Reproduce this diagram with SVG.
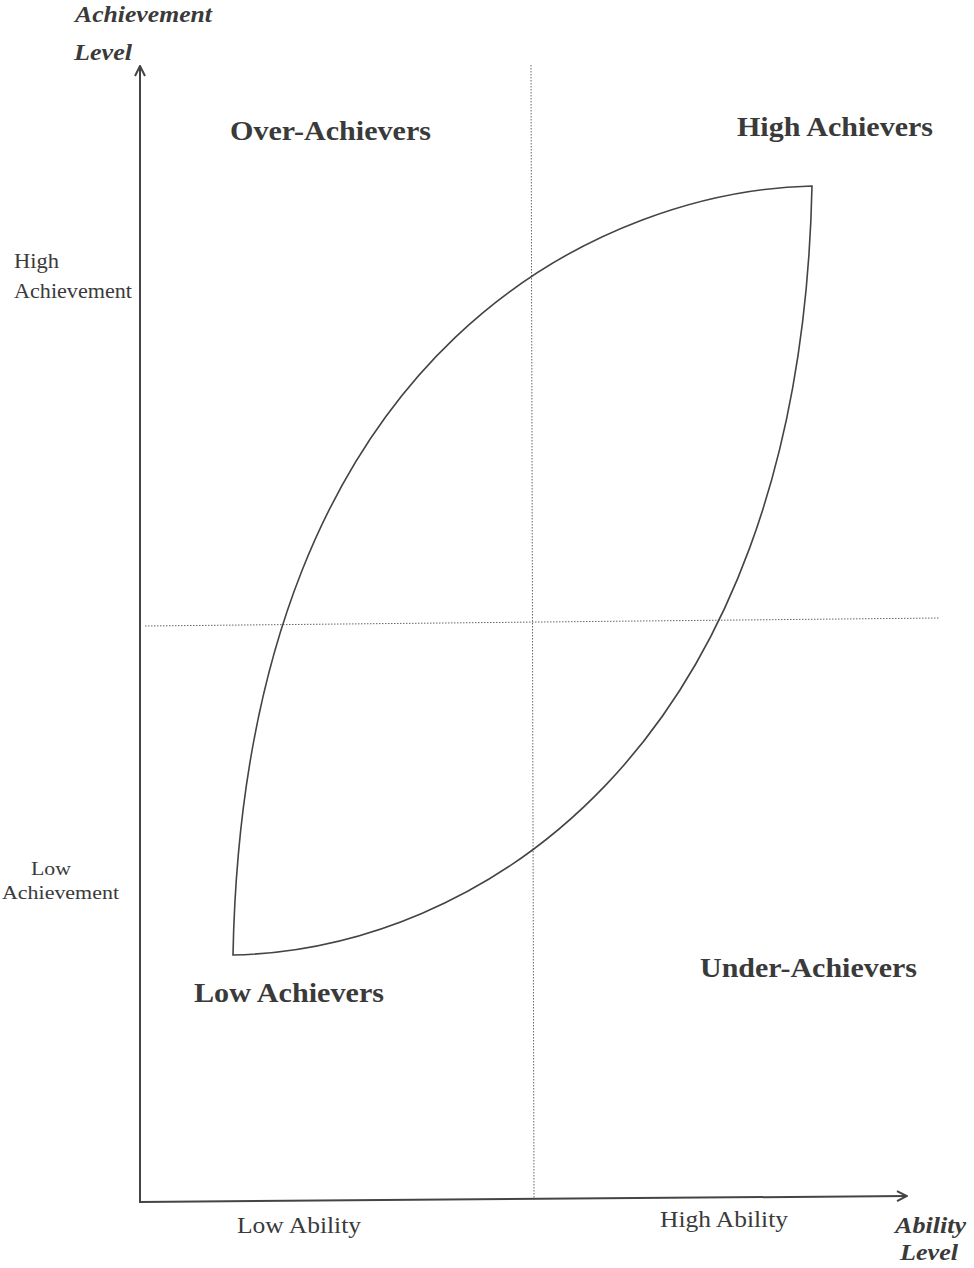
<svg xmlns="http://www.w3.org/2000/svg" width="974" height="1268" viewBox="0 0 974 1268">
<style>
text{font-family:"Liberation Serif","Times New Roman",serif;fill:#3a3a3a}
.q{font-weight:bold;font-size:27px}
.ax{font-weight:bold;font-style:italic;font-size:23px}
.lb{font-size:21px}
.lb3{font-size:19px}
.lb2{font-size:23px}
.axis{stroke:#444;stroke-width:2;fill:none}
.dot{stroke:#666;stroke-width:1;stroke-dasharray:1.5 1.5;fill:none}
.leaf{stroke:#444;stroke-width:1.6;fill:none}
</style>
<defs>
<marker id="arr" viewBox="0 0 12 12" refX="11" refY="6" markerWidth="12" markerHeight="12" markerUnits="userSpaceOnUse" orient="auto">
<path d="M1,1 L11,6 L1,11" fill="none" stroke="#444" stroke-width="2"/>
</marker>
</defs>
<rect width="974" height="1268" fill="#fff"/>
<g id="connectors">
<line class="axis" x1="140" y1="1203" x2="140" y2="66" marker-end="url(#arr)"/>
<line class="axis" x1="140" y1="1202" x2="907" y2="1196" marker-end="url(#arr)"/>
<line class="dot" x1="531" y1="65" x2="534" y2="1198"/>
<line class="dot" x1="145" y1="626" x2="940" y2="618"/>
</g>
<g id="leaf">
<path class="leaf" d="M812,186 C620,190 245,330 233,955 C470,950 800,760 812,186 Z"/>
</g>
<g id="labels">
<text class="ax" x="75" y="22" textLength="137" lengthAdjust="spacingAndGlyphs">Achievement</text>
<text class="ax" x="74" y="60" textLength="58" lengthAdjust="spacingAndGlyphs">Level</text>
<text class="ax" x="895" y="1233" textLength="71" lengthAdjust="spacingAndGlyphs">Ability</text>
<text class="ax" x="900" y="1260" textLength="58" lengthAdjust="spacingAndGlyphs">Level</text>
<text class="lb" x="14" y="268" textLength="45" lengthAdjust="spacingAndGlyphs">High</text>
<text class="lb" x="14" y="298" textLength="118" lengthAdjust="spacingAndGlyphs">Achievement</text>
<text class="lb3" x="31" y="875" textLength="40" lengthAdjust="spacingAndGlyphs">Low</text>
<text class="lb3" x="2" y="899" textLength="117" lengthAdjust="spacingAndGlyphs">Achievement</text>
<text class="lb2" x="237" y="1233" textLength="124" lengthAdjust="spacingAndGlyphs">Low Ability</text>
<text class="lb2" x="660" y="1227" textLength="128" lengthAdjust="spacingAndGlyphs">High Ability</text>
</g>
<g id="over-achievers"><text class="q" x="230" y="140" textLength="201" lengthAdjust="spacingAndGlyphs">Over-Achievers</text></g>
<g id="high-achievers"><text class="q" x="737" y="136" textLength="196" lengthAdjust="spacingAndGlyphs">High Achievers</text></g>
<g id="low-achievers"><text class="q" x="194" y="1002" textLength="190" lengthAdjust="spacingAndGlyphs">Low Achievers</text></g>
<g id="under-achievers"><text class="q" x="700" y="977" textLength="217" lengthAdjust="spacingAndGlyphs">Under-Achievers</text></g>
</svg>
